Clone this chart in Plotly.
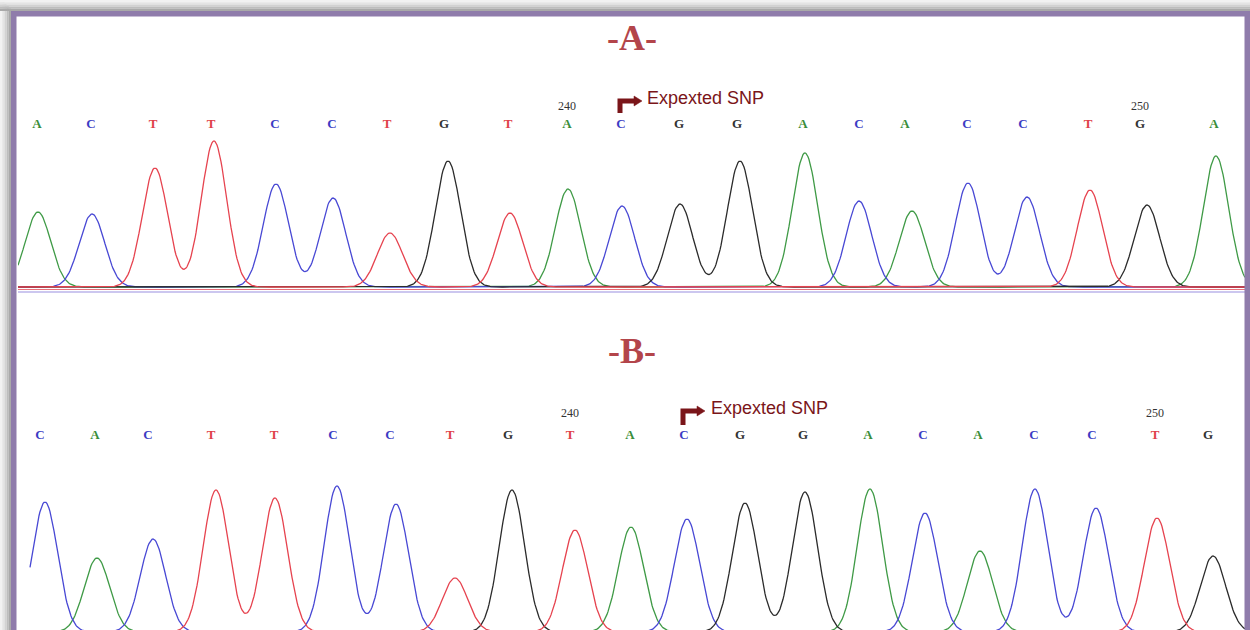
import numpy as np
import plotly.graph_objects as go

W, H = 1250, 630

# ---------------- data ----------------
BASES_A = list("ACTTCCTGTACGGACACCTGA")
CALL_X_A = [37, 91, 153, 211, 275, 332, 387, 444, 508, 567, 621, 679, 737, 803, 859, 905, 967, 1023, 1088, 1140, 1214]
PEAK_X_A = [38, 92, 155, 214, 276, 333, 390, 448, 510, 568, 622, 680, 740, 805, 859, 912, 968, 1027, 1090, 1147, 1216]
PEAK_H_A = [75, 73, 119, 146, 103, 89, 54, 126, 74, 98, 81, 83, 126, 134, 86, 76, 104, 90, 97, 82, 131]
FIRST_BASE_A = 231

BASES_B = list("CACTTCCTGTACGGACACCTG")
CALL_X_B = [40, 95, 148, 211, 274, 333, 390, 450, 508, 570, 630, 684, 740, 803, 868, 923, 978, 1034, 1092, 1155, 1208]
PEAK_X_B = [45, 97, 153, 216, 275, 337, 396, 455, 512, 575, 631, 687, 745, 805, 870, 925, 980, 1035, 1096, 1157, 1213]
PEAK_H_B = [130, 74, 93, 142, 134, 146, 128, 54, 142, 102, 105, 113, 129, 140, 143, 119, 81, 143, 124, 114, 76]
FIRST_BASE_B = 231

# ---------------- styles ----------------
TRACE_COL = {"A": "#3f9a46", "C": "#4848d4", "G": "#2b2b2b", "T": "#e6434f"}
LETTER_COL = {"A": "#3a8d3a", "C": "#3c3cc4", "G": "#333333", "T": "#e0404a"}
SIGMA = 12.7
XA0, XB0, X1 = 18, 30, 1245


def px(x):
    return x / W


def py(y):
    return 1 - y / H


fig = go.Figure()


def add_panel(bases, peak_x, peak_h, x0, xa, ya):
    xs = np.arange(x0, X1 + 1, 1.0)
    for b in "ACGT":
        ys = np.zeros_like(xs)
        for base, cx, h in zip(bases, peak_x, peak_h):
            if base == b:
                ys = ys + h * np.exp(-((xs - cx) ** 2) / (2 * SIGMA ** 2))
        fig.add_trace(go.Scatter(x=xs, y=ys, mode="lines", xaxis=xa, yaxis=ya,
                                 line=dict(color=TRACE_COL[b], width=1.3),
                                 hoverinfo="skip", showlegend=False))


add_panel(BASES_A, PEAK_X_A, PEAK_H_A, XA0, "x", "y")
add_panel(BASES_B, PEAK_X_B, PEAK_H_B, XB0, "x2", "y2")

shapes = []
annotations = []

# base-call letters and position numbers
LET_Y_A, NUM_Y_A = 162, 181
LET_Y_B, NUM_Y_B = 196, 219
for bases, cx, first, xa, ya, ly, ny in [
    (BASES_A, CALL_X_A, FIRST_BASE_A, "x", "y", LET_Y_A, NUM_Y_A),
    (BASES_B, CALL_X_B, FIRST_BASE_B, "x2", "y2", LET_Y_B, NUM_Y_B),
]:
    fig.add_trace(go.Scatter(x=cx, y=[ly] * len(cx), mode="text",
                             text=["<b>%s</b>" % b for b in bases],
                             textfont=dict(family="Liberation Serif", size=13,
                                           color=[LETTER_COL[b] for b in bases]),
                             xaxis=xa, yaxis=ya, hoverinfo="skip", showlegend=False))
    for i, x in enumerate(cx):
        n = first + i
        if n % 10 == 0:
            annotations.append(dict(text=str(n), x=x, y=ny, xref=xa, yref=ya, showarrow=False,
                                    xanchor="center", yanchor="middle",
                                    font=dict(family="Liberation Serif", size=12, color="#333333")))

# baselines under panel A
shapes.append(dict(type="line", xref="x", yref="y", x0=XA0, x1=X1, y0=-2.5, y1=-2.5,
                   line=dict(color="#e8707a", width=1)))
shapes.append(dict(type="line", xref="x", yref="y", x0=XA0, x1=X1, y0=-5, y1=-5,
                   line=dict(color="#9a90e0", width=1.2)))

# frame: shadow + purple border
for i, c in enumerate(["#f2f2f2", "#e4e4e4", "#d2d2d2", "#bdbdbd", "#a9a9a9"]):
    a, b = i * 2.2, (i + 1) * 2.2
    shapes.append(dict(type="rect", xref="paper", yref="paper", x0=0, x1=1,
                       y0=py(b), y1=py(a), fillcolor=c, line=dict(width=0), layer="above"))
    shapes.append(dict(type="rect", xref="paper", yref="paper", x0=px(a), x1=px(b),
                       y0=0, y1=py(a), fillcolor=c, line=dict(width=0), layer="above"))
PURPLE = "#8f7cab"
shapes.append(dict(type="rect", xref="paper", yref="paper", x0=px(11), x1=1, y0=py(16.5), y1=py(11),
                   fillcolor=PURPLE, line=dict(width=0), layer="above"))
shapes.append(dict(type="rect", xref="paper", yref="paper", x0=px(11), x1=px(16.5), y0=0, y1=py(11),
                   fillcolor=PURPLE, line=dict(width=0), layer="above"))
shapes.append(dict(type="rect", xref="paper", yref="paper", x0=px(1244.5), x1=1, y0=0, y1=py(11),
                   fillcolor=PURPLE, line=dict(width=0), layer="above"))

# panel titles
TITLE_COL = "#b3454a"
for label, ty in [("-A-", 38), ("-B-", 351)]:
    annotations.append(dict(text="<b>%s</b>" % label, x=px(632), y=py(ty), xref="paper", yref="paper",
                            showarrow=False, xanchor="center", yanchor="middle",
                            font=dict(family="Liberation Serif", size=36, color=TITLE_COL)))

# Expected SNP markers
SNP_COL = "#7a1519"
for cx, y_bot, y_top, tx in [(620, 113, 101, 645), (683, 425, 411, 709)]:
    shapes.append(dict(type="path", xref="paper", yref="paper",
                       path="M %f,%f L %f,%f L %f,%f" % (px(cx), py(y_bot), px(cx), py(y_top),
                                                         px(cx + 15), py(y_top)),
                       line=dict(color=SNP_COL, width=5)))
    shapes.append(dict(type="path", xref="paper", yref="paper",
                       path="M %f,%f L %f,%f L %f,%f Z" % (px(cx + 14), py(y_top - 5), px(cx + 22), py(y_top),
                                                           px(cx + 14), py(y_top + 5)),
                       fillcolor=SNP_COL, line=dict(color=SNP_COL, width=0.5)))
    annotations.append(dict(text="Expexted SNP", x=px(tx), y=py(y_top - 3), xref="paper", yref="paper",
                            showarrow=False, xanchor="left", yanchor="middle",
                            font=dict(family="Liberation Sans", size=18, color=SNP_COL)))

# axis mapping: panel A value = 287 - pixel, panel B value = 632 - pixel
A_TOP, A_BOT, A_BASE = 55, 300, 287
B_TOP, B_BOT, B_BASE = 375, 630, 632
axis_common = dict(visible=False, showgrid=False, zeroline=False, fixedrange=True)

fig.update_layout(
    width=W, height=H,
    margin=dict(l=0, r=0, t=0, b=0),
    paper_bgcolor="white", plot_bgcolor="rgba(0,0,0,0)",
    xaxis=dict(domain=[px(XA0), px(X1)], range=[XA0, X1], anchor="y", **axis_common),
    yaxis=dict(domain=[py(A_BOT), py(A_TOP)], range=[A_BASE - A_BOT, A_BASE - A_TOP], anchor="x", **axis_common),
    xaxis2=dict(domain=[px(XA0), px(X1)], range=[XA0, X1], anchor="y2", **axis_common),
    yaxis2=dict(domain=[py(B_BOT), py(B_TOP)], range=[B_BASE - B_BOT, B_BASE - B_TOP], anchor="x2", **axis_common),
    shapes=shapes,
    annotations=annotations,
    showlegend=False,
)

fig.write_html("out.html")
